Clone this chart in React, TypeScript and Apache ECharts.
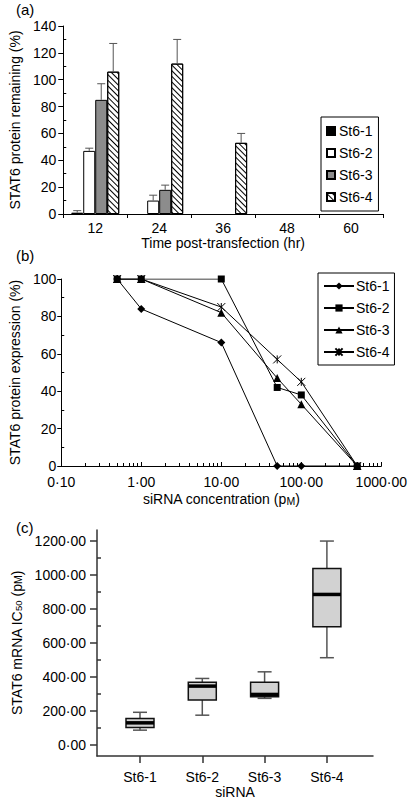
import React, { useEffect, useRef } from "react";
import * as echarts from "echarts";

// ---------- Panel (a) data ----------
const timeCategories = ["12", "24", "36", "48", "60"];
const barNames = ["St6-1", "St6-2", "St6-3", "St6-4"];
const st61Remaining = [1, 0, 0, 0, 0];
const st62Remaining = [47, 10, 0, 0, 0];
const st63Remaining = [85, 18, 0, 0, 0];
const st64Remaining = [106, 112, 53, 0, 0];
const st61Err = [1.5, 0, 0, 0, 0];
const st62Err = [2, 4, 0, 0, 0];
const st63Err = [12, 3.5, 0, 0, 0];
const st64Err = [21, 18, 7, 0, 0];
const aYTicks = [0, 20, 40, 60, 80, 100, 120, 140];
const aYMinor = [10, 30, 50, 70, 90, 110, 130];

// ---------- Panel (b) data ----------
const concentrations = [0.5, 1, 10, 50, 100, 500];
const st61Expr = [100, 84, 66, 0, 0, 0];
const st62Expr = [100, 100, 100, 42, 38, 0];
const st63Expr = [100, 100, 82, 47, 33, 0];
const st64Expr = [100, 100, 85, 57, 45, 0];
const bXTicks = [0.1, 1, 10, 100, 1000];
const bXMinor = [
  0.2, 0.3, 0.4, 0.5, 0.6, 0.7, 0.8, 0.9,
  2, 3, 4, 5, 6, 7, 8, 9,
  20, 30, 40, 50, 60, 70, 80, 90,
  200, 300, 400, 500, 600, 700, 800, 900,
];
const bYTicks = [0, 20, 40, 60, 80, 100];
const bYMinor = [10, 30, 50, 70, 90];

// ---------- Panel (c) data ----------
const sirnaLabels = ["St6-1", "St6-2", "St6-3", "St6-4"];
const icMin = [88, 176, 275, 514];
const icQ1 = [104, 265, 284, 696];
const icMedian = [131, 347, 298, 886];
const icQ3 = [157, 369, 369, 1039];
const icMax = [193, 392, 431, 1200];
const cYTicks = [0, 200, 400, 600, 800, 1000, 1200];
const cYMinor = [100, 300, 500, 700, 900, 1100];

const FONT = "'Liberation Sans', Arial, Helvetica, sans-serif";
const FS = 14;
const fmt2 = (v: number) => Number(v).toFixed(2).replace(".", "\u00B7");

export default function App() {
  const ref = useRef<HTMLDivElement>(null);

  useEffect(() => {
    if (!ref.current) return;
    const chart = echarts.init(ref.current, undefined, { renderer: "svg" });

    const barValues = [st61Remaining, st62Remaining, st63Remaining, st64Remaining];
    const barErrs = [st61Err, st62Err, st63Err, st64Err];
    const barColors = ["#000000", "#ffffff", "#8c8c8c", "#ffffff"];
    const BAR_W = 12;

    const errData: number[][] = [];
    barValues.forEach((vals, si) => {
      vals.forEach((v, ci) => {
        if (barErrs[si][ci] > 0) errData.push([ci, si, v, barErrs[si][ci]]);
      });
    });

    const lineValues = [st61Expr, st62Expr, st63Expr, st64Expr];
    const lineSymbols = [
      "diamond",
      "rect",
      "triangle",
      "path://M0,0L10,10M10,0L0,10M5,0L5,10",
    ];
    const lineSymbolSizes = [8, 7, 8, 8];

    const axisLineBlack = { show: true, lineStyle: { color: "#000", width: 1 } };
    const labelStyle = { color: "#000", fontSize: FS, fontFamily: FONT };
    const nameRich = {
      t: { fontSize: FS, lineHeight: 18, verticalAlign: "bottom", fontFamily: FONT, color: "#000" },
      sc: { fontSize: 10.5, lineHeight: 18, verticalAlign: "bottom", fontFamily: FONT, color: "#000" },
      s: { fontSize: 9.5, lineHeight: 8, verticalAlign: "bottom", fontFamily: FONT, color: "#000" },
    };

    const option: any = {
      animation: false,
      backgroundColor: "#ffffff",
      textStyle: { fontFamily: FONT, color: "#000" },
      title: [
        { text: "(a)", left: 16, top: 2, padding: 0, textStyle: { fontSize: 15, fontWeight: "normal", color: "#000", fontFamily: FONT } },
        { text: "(b)", left: 16, top: 248, padding: 0, textStyle: { fontSize: 15, fontWeight: "normal", color: "#000", fontFamily: FONT } },
        { text: "(c)", left: 16, top: 520, padding: 0, textStyle: { fontSize: 15, fontWeight: "normal", color: "#000", fontFamily: FONT } },
      ],
      grid: [
        { left: 57, top: 26, width: 326, height: 188 },
        { left: 42, top: 279, width: 342, height: 187 },
        { left: 97, top: 530, width: 276, height: 226 },
      ],
      legend: [
        {
          data: barNames,
          orient: "vertical",
          left: 321,
          top: 117,
          padding: [7, 6, 7, 5],
          itemWidth: 8,
          itemHeight: 8,
          itemGap: 8,
          icon: "rect",
          borderColor: "#000",
          borderWidth: 1,
          selectedMode: false,
          textStyle: { fontSize: FS, color: "#000", fontFamily: FONT, padding: [0, 0, 0, -1] },
        },
        {
          data: barNames.map((n) => "b:" + n),
          formatter: (n: string) => n.replace("b:", ""),
          orient: "vertical",
          left: 318,
          top: 273,
          padding: [6, 5, 6, 5],
          itemWidth: 30,
          itemHeight: 9,
          itemGap: 8,
          borderColor: "#000",
          borderWidth: 1,
          selectedMode: false,
          textStyle: { fontSize: FS, color: "#000", fontFamily: FONT, padding: [0, 0, 0, -3] },
        },
      ],
      xAxis: [
        {
          type: "category",
          gridIndex: 0,
          data: timeCategories,
          boundaryGap: true,
          axisLine: axisLineBlack,
          axisTick: { show: true, length: 4, lineStyle: { color: "#000" } },
          axisLabel: { ...labelStyle, margin: 7 },
          splitLine: { show: false },
          name: "Time post-transfection (hr)",
          nameLocation: "middle",
          nameGap: 22,
          nameTextStyle: { fontSize: FS, color: "#000", fontFamily: FONT, verticalAlign: "top" },
        },
        {
          type: "log",
          logBase: 10,
          gridIndex: 1,
          position: "bottom",
          min: 0.1,
          max: 1000,
          axisLine: { ...axisLineBlack, onZero: false },
          axisTick: { show: true, inside: true, length: 4, customValues: bXTicks, lineStyle: { color: "#000" } },
          axisLabel: { ...labelStyle, margin: 9, customValues: bXTicks, formatter: (v: number) => fmt2(v) },
          splitLine: { show: false },
          name: "{t|siRNA concentration (p}{sc|M}{t|)}",
          nameLocation: "middle",
          nameGap: 22,
          nameTextStyle: { rich: nameRich, verticalAlign: "top" },
        },
        {
          type: "log",
          logBase: 10,
          gridIndex: 1,
          position: "bottom",
          min: 0.1,
          max: 1000,
          axisLine: { show: false, onZero: false },
          axisTick: { show: true, inside: true, length: 3, customValues: bXMinor, lineStyle: { color: "#000" } },
          axisLabel: { show: false },
          splitLine: { show: false },
        },
        {
          type: "value",
          gridIndex: 2,
          min: 0.31,
          max: 4.74,
          axisLine: { show: true, onZero: false, lineStyle: { color: "#333", width: 1.5 } },
          axisTick: { show: true, length: 7, customValues: [1, 2, 3, 4], lineStyle: { color: "#333", width: 1.5 } },
          axisLabel: {
            ...labelStyle,
            margin: 14,
            customValues: [1, 2, 3, 4],
            formatter: (v: number) => sirnaLabels[Math.round(v) - 1] ?? "",
          },
          splitLine: { show: false },
          name: "siRNA",
          nameLocation: "middle",
          nameGap: 29,
          nameTextStyle: { fontSize: FS, color: "#000", fontFamily: FONT, verticalAlign: "top" },
        },
      ],
      yAxis: [
        {
          type: "value",
          gridIndex: 0,
          position: "left",
          min: 0,
          max: 140,
          axisLine: axisLineBlack,
          axisTick: { show: true, length: 5, customValues: aYTicks, lineStyle: { color: "#000" } },
          axisLabel: { ...labelStyle, margin: 7, customValues: aYTicks },
          splitLine: { show: false },
          name: "STAT6 protein remaining (%)",
          nameLocation: "middle",
          nameRotate: 90,
          nameGap: 37,
          nameTextStyle: { fontSize: FS, color: "#000", fontFamily: FONT },
        },
        {
          type: "value",
          gridIndex: 0,
          position: "left",
          min: 0,
          max: 140,
          axisLine: { show: false },
          axisTick: { show: true, inside: true, length: 3, customValues: aYMinor, lineStyle: { color: "#000" } },
          axisLabel: { show: false },
          splitLine: { show: false },
        },
        {
          type: "value",
          gridIndex: 1,
          position: "left",
          min: 0,
          max: 100,
          axisLine: axisLineBlack,
          axisTick: { show: true, length: 4, customValues: bYTicks, lineStyle: { color: "#000" } },
          axisLabel: { ...labelStyle, margin: 5, customValues: bYTicks },
          splitLine: { show: false },
          name: "STAT6 protein expression (%)",
          nameLocation: "middle",
          nameRotate: 90,
          nameGap: 29,
          nameTextStyle: { fontSize: FS, color: "#000", fontFamily: FONT },
        },
        {
          type: "value",
          gridIndex: 1,
          position: "left",
          min: 0,
          max: 100,
          axisLine: { show: false },
          axisTick: { show: true, inside: true, length: 3, customValues: bYMinor, lineStyle: { color: "#000" } },
          axisLabel: { show: false },
          splitLine: { show: false },
        },
        {
          type: "value",
          gridIndex: 2,
          position: "left",
          min: -64,
          max: 1265,
          axisLine: { show: true, lineStyle: { color: "#333", width: 1.5 } },
          axisTick: { show: true, length: 7, customValues: cYTicks, lineStyle: { color: "#333", width: 1.5 } },
          axisLabel: { ...labelStyle, margin: 11, customValues: cYTicks, formatter: (v: number) => fmt2(v) },
          splitLine: { show: false },
          name: "{t|STAT6 mRNA IC}{s|50}{t| (p}{sc|M}{t|)}",
          nameLocation: "middle",
          nameRotate: 90,
          nameGap: 60,
          nameTextStyle: { rich: nameRich },
        },
        {
          type: "value",
          gridIndex: 2,
          position: "left",
          min: -64,
          max: 1265,
          axisLine: { show: false },
          axisTick: { show: true, inside: true, length: 4, customValues: cYMinor, lineStyle: { color: "#333", width: 1.5 } },
          axisLabel: { show: false },
          splitLine: { show: false },
        },
      ],
      series: [
        ...barNames.map((name, i) => ({
          type: "bar",
          name,
          xAxisIndex: 0,
          yAxisIndex: 0,
          data: barValues[i].map((v) => (v === 0 ? null : v)),
          barWidth: BAR_W,
          barGap: "0%",
          itemStyle: {
            color: barColors[i],
            borderColor: "#000",
            borderWidth: 1,
            ...(i === 3
              ? {
                  decal: {
                    symbol: "rect",
                    symbolSize: 1,
                    color: "#000",
                    backgroundColor: "#fff",
                    dashArrayX: [1, 0],
                    dashArrayY: [1, 2.2],
                    rotation: Math.PI / 4,
                  },
                }
              : {}),
          },
        })),
        {
          type: "custom",
          name: "errors",
          xAxisIndex: 0,
          yAxisIndex: 0,
          data: errData,
          z: 5,
          renderItem: (params: any, api: any) => {
            const cat = api.value(0);
            const idx = api.value(1);
            const val = api.value(2);
            const err = api.value(3);
            const base = api.coord([cat, val]);
            const top = api.coord([cat, val + err]);
            const x = base[0] + (idx - 1.5) * BAR_W;
            const st = { stroke: "#555", lineWidth: 1 };
            return {
              type: "group",
              children: [
                { type: "line", shape: { x1: x, y1: base[1], x2: x, y2: top[1] }, style: st },
                { type: "line", shape: { x1: x - 4, y1: top[1], x2: x + 4, y2: top[1] }, style: st },
              ],
            };
          },
        },
        ...barNames.map((name, i) => ({
          type: "line",
          name: "b:" + name,
          xAxisIndex: 1,
          yAxisIndex: 2,
          data: concentrations.map((c, k) => [c, lineValues[i][k]]),
          symbol: lineSymbols[i],
          symbolSize: lineSymbolSizes[i],
          showSymbol: true,
          lineStyle: { color: "#000", width: 1 },
          itemStyle: { color: "#000", borderColor: "#000", borderWidth: i === 3 ? 1 : 0 },
        })),
        {
          type: "custom",
          name: "ic50",
          xAxisIndex: 3,
          yAxisIndex: 4,
          data: sirnaLabels.map((_, i) => [i + 1, icMin[i], icQ1[i], icMedian[i], icQ3[i], icMax[i]]),
          renderItem: (params: any, api: any) => {
            const x = api.value(0);
            const pMin = api.coord([x, api.value(1)]);
            const pQ1 = api.coord([x, api.value(2)]);
            const pMed = api.coord([x, api.value(3)]);
            const pQ3 = api.coord([x, api.value(4)]);
            const pMax = api.coord([x, api.value(5)]);
            const cx = pMin[0];
            const hw = 14;
            const cw = 7;
            const ws = { stroke: "#555", lineWidth: 1.5 };
            return {
              type: "group",
              children: [
                { type: "line", shape: { x1: cx, y1: pQ3[1], x2: cx, y2: pMax[1] }, style: ws },
                { type: "line", shape: { x1: cx, y1: pQ1[1], x2: cx, y2: pMin[1] }, style: ws },
                { type: "line", shape: { x1: cx - cw, y1: pMax[1], x2: cx + cw, y2: pMax[1] }, style: ws },
                { type: "line", shape: { x1: cx - cw, y1: pMin[1], x2: cx + cw, y2: pMin[1] }, style: ws },
                {
                  type: "rect",
                  shape: { x: cx - hw, y: pQ3[1], width: hw * 2, height: pQ1[1] - pQ3[1] },
                  style: { fill: "#d2d2d2", stroke: "#111", lineWidth: 1.5 },
                },
                {
                  type: "line",
                  shape: { x1: cx - hw, y1: pMed[1], x2: cx + hw, y2: pMed[1] },
                  style: { stroke: "#000", lineWidth: 3.5 },
                },
              ],
            };
          },
        },
      ],
    };

    chart.setOption(option);
    return () => chart.dispose();
  }, []);

  return (
    <div
      ref={ref}
      style={{ position: "absolute", left: 0, top: 0, width: 410, height: 800, background: "#fff" }}
    />
  );
}
